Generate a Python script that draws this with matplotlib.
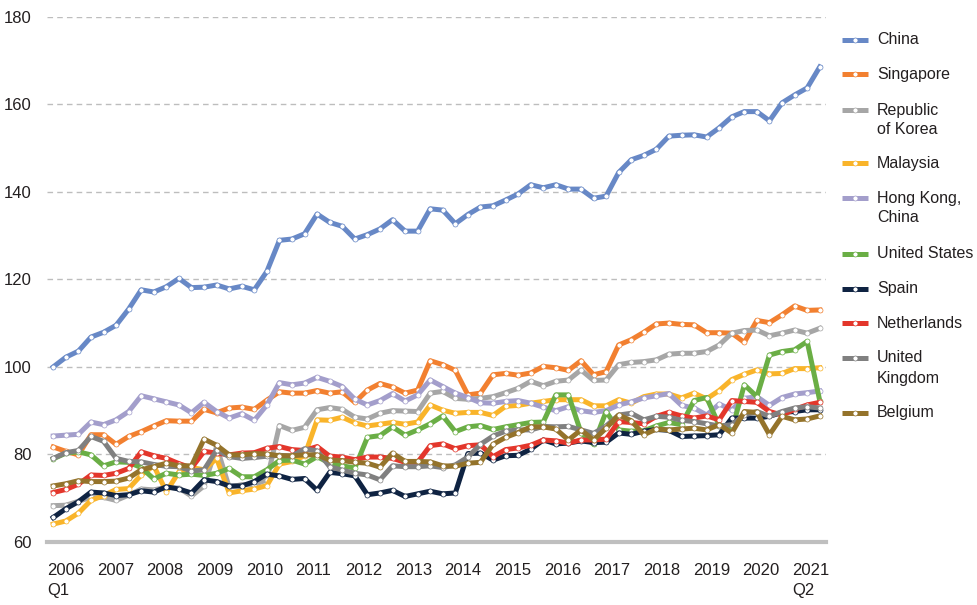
import matplotlib
matplotlib.use("Agg")
import matplotlib.pyplot as plt
from matplotlib.lines import Line2D

plt.rcParams['font.family'] = ['Liberation Sans', 'DejaVu Sans']

# ---------------- data (quarterly, 2006 Q1 .. 2021 Q2) ----------------
years = [str(y) for y in range(2006, 2022)]

china = [100.0, 102.2, 103.6, 106.8, 107.9, 109.5, 113.2, 117.6, 117.1, 118.3,
         120.2, 118.1, 118.2, 118.7, 117.8, 118.4, 117.6, 121.8, 128.9, 129.2,
         130.4, 134.9, 133.0, 132.1, 129.2, 130.2, 131.5, 133.6, 131.0, 131.0,
         136.1, 135.8, 132.7, 134.8, 136.5, 136.8, 138.1, 139.5, 141.6, 140.9,
         141.6, 140.6, 140.6, 138.5, 139.0, 144.4, 147.3, 148.3, 149.7, 152.7,
         152.9, 153.0, 152.5, 154.6, 157.1, 158.3, 158.3, 156.2, 160.3, 162.1,
         163.7, 168.5]
singapore = [81.7, 80.7, 79.9, 84.5, 84.5, 82.3, 84.1, 85.2, 86.5, 87.7,
             87.6, 87.6, 90.3, 89.5, 90.6, 90.8, 90.3, 92.4, 94.3, 94.0,
             94.0, 94.6, 94.0, 94.3, 91.9, 94.7, 96.2, 95.4, 94.0, 94.7,
             101.4, 100.5, 99.2, 93.6, 94.0, 98.2, 98.5, 98.1, 98.6, 100.1,
             99.8, 99.2, 101.4, 98.2, 98.9, 105.0, 106.2, 107.9, 109.8, 110.0,
             109.7, 109.6, 107.8, 107.8, 107.7, 105.6, 110.6, 110.1, 111.9, 113.9,
             112.9, 113.0]
korea = [68.3, 68.4, 69.3, 70.2, 70.2, 69.5, 70.7, 72.1, 71.9, 72.5,
         72.3, 70.5, 72.8, 81.8, 72.5, 73.1, 73.1, 74.2, 86.6, 85.5,
         86.2, 90.2, 90.7, 90.3, 88.5, 88.1, 89.4, 90.0, 89.9, 89.8,
         94.0, 94.4, 92.8, 92.6, 92.8, 93.2, 94.1, 95.1, 96.7, 95.7,
         96.7, 97.0, 99.3, 96.9, 97.0, 100.5, 101.0, 101.2, 101.6, 102.9,
         103.1, 103.1, 103.5, 105.0, 107.7, 108.3, 108.4, 107.1, 107.7, 108.4,
         107.7, 108.8]
malaysia = [64.1, 64.8, 66.6, 69.5, 70.6, 72.0, 72.2, 75.3, 77.4, 71.5,
            76.0, 77.0, 76.5, 79.1, 71.2, 71.7, 72.1, 72.9, 77.8, 78.4,
            79.7, 87.9, 87.8, 88.5, 87.2, 86.5, 86.9, 87.3, 86.9, 87.4,
            91.3, 90.1, 89.4, 89.6, 89.6, 88.9, 91.0, 91.2, 91.7, 92.1,
            92.5, 92.5, 92.5, 91.1, 91.1, 92.5, 91.7, 93.2, 93.8, 93.8,
            92.9, 94.0, 92.7, 94.6, 97.1, 98.3, 99.3, 98.4, 98.5, 99.6,
            99.6, 99.8]
hongkong = [84.2, 84.4, 84.6, 87.4, 86.8, 87.9, 89.8, 93.4, 92.7, 92.0,
            91.3, 89.5, 91.9, 89.8, 88.3, 89.3, 87.8, 91.3, 96.4, 95.9,
            96.3, 97.6, 96.7, 95.5, 92.6, 91.3, 92.3, 93.9, 92.2, 93.6,
            97.0, 95.5, 94.0, 93.0, 91.8, 91.7, 92.1, 92.3, 91.7, 90.8,
            90.0, 90.9, 90.0, 89.6, 90.0, 91.3, 92.0, 92.9, 93.4, 93.9,
            91.2, 90.6, 89.0, 91.5, 90.2, 92.8, 93.2, 91.2, 93.0, 93.8,
            94.1, 94.5]
united_states = [79.0, 80.3, 80.6, 79.9, 77.4, 78.3, 78.2, 77.0, 74.4, 75.7,
                 75.3, 75.5, 75.2, 75.7, 76.8, 74.9, 74.9, 76.5, 78.6, 78.7,
                 77.8, 79.5, 78.0, 77.4, 76.9, 83.9, 84.3, 86.3, 84.4, 85.6,
                 87.0, 88.8, 85.2, 86.3, 86.6, 85.7, 86.3, 86.8, 87.3, 87.4,
                 93.6, 93.6, 85.0, 82.3, 89.8, 85.6, 85.3, 85.4, 86.5, 87.3,
                 86.8, 92.3, 93.0, 86.6, 85.5, 95.9, 93.2, 102.7, 103.5, 103.9,
                 105.8, 92.3]
spain = [65.6, 67.6, 69.2, 71.4, 71.2, 70.6, 70.8, 71.7, 71.4, 72.6,
         72.1, 71.2, 74.2, 73.8, 72.8, 72.8, 73.8, 75.5, 75.1, 74.3,
         74.5, 71.8, 75.9, 75.6, 75.1, 70.8, 71.2, 71.8, 70.4, 71.0,
         71.6, 71.0, 71.2, 80.2, 80.3, 78.7, 79.7, 79.8, 81.2, 83.3,
         82.4, 82.6, 83.1, 82.7, 82.8, 84.9, 84.6, 85.3, 85.7, 85.5,
         84.1, 84.2, 84.3, 84.5, 88.3, 88.3, 88.3, 88.7, 89.6, 89.8,
         90.2, 90.2]
netherlands = [71.3, 72.0, 73.2, 75.3, 75.2, 75.7, 76.8, 80.6, 79.7, 79.1,
               77.9, 76.9, 80.7, 80.3, 79.9, 80.3, 80.4, 81.4, 81.8, 81.1,
               80.9, 81.8, 79.6, 79.4, 78.8, 79.4, 79.4, 79.1, 78.2, 78.2,
               82.0, 82.4, 81.3, 82.0, 82.2, 79.5, 81.1, 81.5, 82.1, 83.3,
               83.1, 82.6, 83.3, 83.3, 83.5, 87.5, 87.3, 87.0, 88.7, 89.6,
               88.8, 88.3, 88.8, 87.9, 92.3, 92.1, 91.9, 89.8, 89.0, 90.3,
               91.3, 91.9]
united_kingdom = [79.1, 80.4, 80.9, 84.1, 83.0, 79.1, 78.4, 78.3, 77.7, 77.3,
                  77.2, 76.2, 76.5, 81.0, 79.5, 79.1, 79.3, 79.6, 79.8, 79.6,
                  81.3, 80.8, 77.2, 76.4, 75.7, 75.3, 74.2, 77.4, 77.2, 77.2,
                  77.4, 77.0, 77.6, 79.4, 82.3, 84.2, 85.3, 85.6, 85.6, 86.4,
                  86.3, 86.4, 85.6, 84.8, 86.5, 89.0, 89.4, 87.9, 88.7, 88.5,
                  87.8, 87.5, 87.0, 86.5, 86.8, 89.0, 89.8, 88.7, 89.8, 90.6,
                  90.9, 90.6]
belgium = [72.8, 73.3, 74.0, 73.8, 73.8, 73.9, 74.6, 76.5, 77.2, 78.0,
           77.4, 77.4, 83.5, 82.1, 79.9, 79.9, 80.2, 80.1, 79.7, 79.7,
           79.9, 79.9, 78.7, 78.6, 78.2, 78.0, 77.1, 80.3, 78.4, 78.4,
           78.3, 77.4, 77.3, 78.0, 78.2, 82.3, 83.9, 85.0, 86.3, 86.3,
           85.8, 83.3, 85.6, 83.3, 86.0, 89.0, 87.7, 84.5, 85.8, 85.6,
           85.8, 86.0, 85.6, 86.8, 84.9, 89.8, 89.6, 84.5, 88.7, 87.9,
           88.1, 88.8]

series = [
    ("China", china, "#6788c6"),
    ("Singapore", singapore, "#f28030"),
    ("Republic\nof Korea", korea, "#a6a6a6"),
    ("Malaysia", malaysia, "#f9b42a"),
    ("Hong Kong,\nChina", hongkong, "#a39ecb"),
    ("United States", united_states, "#6aae45"),
    ("Spain", spain, "#0f2342"),
    ("Netherlands", netherlands, "#e3362b"),
    ("United\nKingdom", united_kingdom, "#808080"),
    ("Belgium", belgium, "#94732b"),
]

TXT = "#231f20"
W, H = 978, 605
fig = plt.figure(figsize=(W / 100, H / 100), dpi=100)
ax = fig.add_axes([47/W, 1-542/H, (826-47)/W, (542-16.6)/H])

x = list(range(len(china)))
for name, vals, col in series:
    ax.plot(x, vals, color=col, lw=3.6, marker='o', ms=3.6,
            mfc='white', mec=col, mew=0.5)

ax.set_xlim(-0.5, len(china) - 0.5)
ax.set_ylim(60, 180)
ax.set_yticks(range(60, 181, 20))
ax.yaxis.grid(True, color="#bdbdbd", ls=(0, (4, 3)), lw=1.0)
ax.set_axisbelow(True)
for s in ["top", "right", "left"]:
    ax.spines[s].set_visible(False)
ax.spines["bottom"].set_color("#bfbfbf")
ax.spines["bottom"].set_linewidth(3)
ax.tick_params(axis='y', length=0, pad=11, labelsize=12, labelcolor=TXT)

tick_pos = [-0.5 + 3.953 * k for k in range(len(years))]
tick_lab = list(years)
tick_lab[0] = years[0] + "\nQ1"
tick_lab[-1] = years[-1] + "\nQ2"
ax.set_xticks(tick_pos)
ax.set_xticklabels(tick_lab, ha='left', ma='left', fontsize=12, color=TXT,
                   linespacing=1.45)
ax.tick_params(axis='x', length=0, pad=15)

# ---- legend (drawn in figure pixels) ----
leg_y = [40, 74, 110, 163, 198, 254, 289, 323, 358, 413]
for (name, vals, col), yc in zip(series, leg_y):
    yf = 1 - yc / H
    fig.add_artist(Line2D([842/W, 868/W], [yf, yf], transform=fig.transFigure,
                          color=col, lw=3.6, solid_capstyle='butt'))
    fig.add_artist(Line2D([855/W], [yf], transform=fig.transFigure,
                          marker='o', ms=3.6, mfc='white', mec=col, mew=0.5,
                          ls='none'))
    for j, line in enumerate(name.split("\n")):
        fig.text(877/W, 1 - (yc + 20 * j) / H, line, fontsize=11.5,
                 color=TXT, ha='left', va='center')

fig.savefig("out.png", dpi=100)
